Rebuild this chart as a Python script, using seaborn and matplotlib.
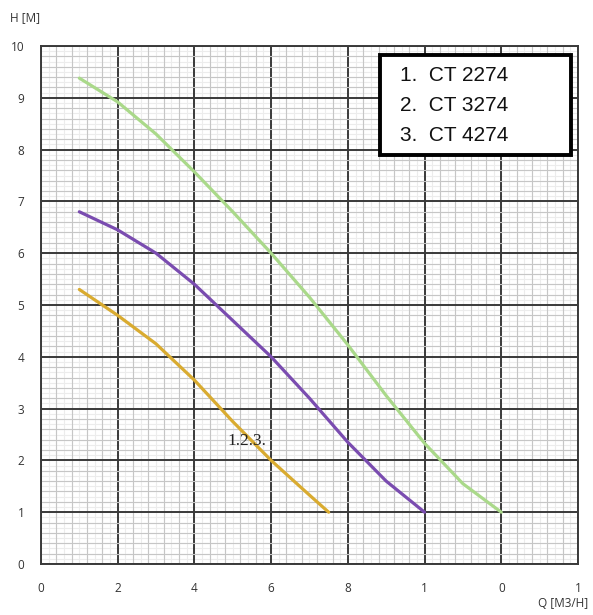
import seaborn as sns
import matplotlib.pyplot as plt
import numpy as np
import pandas as pd
from matplotlib.patches import Rectangle
from matplotlib.ticker import MultipleLocator, FixedLocator

# pump curves
q_2274 = [1, 2, 3, 4, 5, 6, 7, 7.5]
h_2274 = [5.3, 4.8, 4.25, 3.55, 2.75, 2.0, 1.33, 1.0]

q_3274 = [1, 2, 3, 4, 5, 6, 7, 8, 9, 10]
h_3274 = [6.8, 6.45, 6.0, 5.4, 4.7, 4.0, 3.2, 2.35, 1.6, 1.0]

q_4274 = [1, 2, 3, 4, 5, 6, 7, 8, 9, 10, 11, 12]
h_4274 = [9.38, 8.92, 8.3, 7.57, 6.8, 6.0, 5.15, 4.23, 3.25, 2.33, 1.55, 1.0]

x_ticks = [0, 2, 4, 6, 8, 10, 12, 14]
x_labels = ["0", "2", "4", "6", "8", "1", "0", "1"]
y_ticks = [0, 1, 2, 3, 4, 5, 6, 7, 8, 9, 10]
legend_lines = ["1.  CT 2274", "2.  CT 3274", "3.  CT 4274"]

df = pd.concat([
    pd.DataFrame({"Q": q_2274, "H": h_2274, "model": "CT 2274"}),
    pd.DataFrame({"Q": q_3274, "H": h_3274, "model": "CT 3274"}),
    pd.DataFrame({"Q": q_4274, "H": h_4274, "model": "CT 4274"}),
])
palette = {"CT 2274": "#d9ab30", "CT 3274": "#7a4cb0", "CT 4274": "#aad98a"}

sns.set_style("white")
plt.rcParams["font.family"] = ["Open Sans", "DejaVu Sans"]

fig = plt.figure(figsize=(5.93, 6.15), dpi=100)
ax = fig.add_axes([0.0691, 0.0829, 0.9056, 0.8423])

# graph paper grid
for v in np.arange(0, 14.01, 0.2):
    ax.axvline(v, color="#ececec", lw=0.8, zorder=0)
for v in np.arange(0, 10.01, 0.1):
    ax.axhline(v, color="#ececec", lw=0.8, zorder=0)
ax.xaxis.set_minor_locator(MultipleLocator(0.4))
ax.yaxis.set_minor_locator(MultipleLocator(0.2))
ax.grid(which="minor", color="#c6c6c6", lw=0.8, zorder=1)
ax.grid(which="major", color="#3a3a3a", lw=1.4, zorder=2)
ax.set_axisbelow(True)

sns.lineplot(data=df, x="Q", y="H", hue="model", palette=palette,
             lw=2.3, legend=False, ax=ax, zorder=5)

ax.set_xlim(0, 14)
ax.set_ylim(0, 10)
ax.xaxis.set_major_locator(FixedLocator(x_ticks))
ax.set_xticklabels(x_labels)
ax.yaxis.set_major_locator(FixedLocator(y_ticks))
ax.tick_params(which="both", length=0, labelsize=8.5, labelcolor="#333333")
ax.tick_params(axis="x", pad=13)
ax.tick_params(axis="y", pad=12)
ax.set_xlabel("")
ax.set_ylabel("")
for s in ax.spines.values():
    s.set_color("#3a3a3a")
    s.set_linewidth(1.4)

fig.text(0.017, 0.971, "H [M]", fontsize=8.5, color="#333333", va="center")
fig.text(0.992, 0.018, "Q [M3/H]", fontsize=8.5, color="#333333",
         ha="right", va="center")

ax.text(4.86, 2.37, "1.2.3.", family="Liberation Serif", fontsize=12.5,
        color="#222222", va="center", zorder=6)

# legend box
ax.add_patch(Rectangle((8.85, 7.9), 4.96, 1.93, fc="white", ec="black",
                       lw=2.8, zorder=7))
for i, line in enumerate(legend_lines):
    ax.text(9.37, 9.44 - 0.58 * i, line, family="Liberation Sans",
            fontsize=15, va="center", ha="left", color="#111111", zorder=8)

fig.savefig("out.png", dpi=100)
